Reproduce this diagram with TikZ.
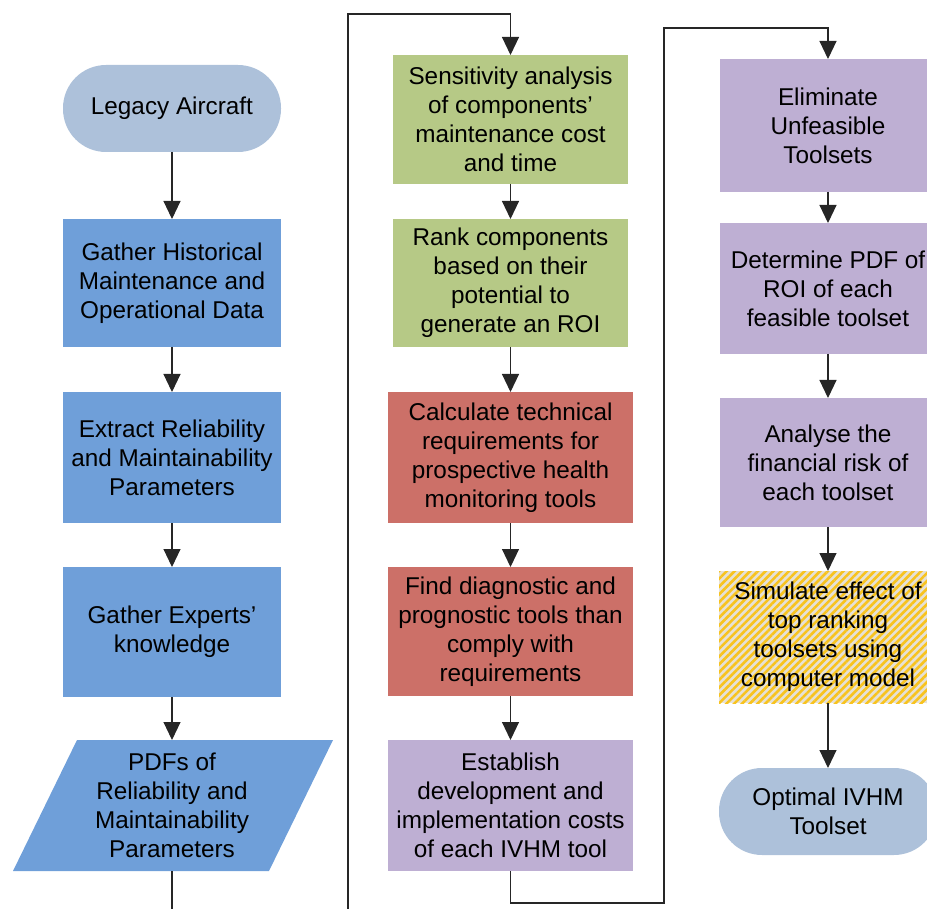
\documentclass[tikz,border=0pt]{standalone}
\usepackage{fontspec}
\setmainfont{Liberation Sans}
\usetikzlibrary{arrows.meta,patterns.meta}

\definecolor{termfill}{HTML}{ADC1DA}
\definecolor{bluefill}{HTML}{6F9FD9}
\definecolor{greenfill}{HTML}{B6C986}
\definecolor{redfill}{HTML}{CC7068}
\definecolor{purplefill}{HTML}{BEAFD3}
\definecolor{hatchbase}{HTML}{E6E1D6}
\definecolor{hatchline}{HTML}{F8C31E}
\definecolor{linecol}{HTML}{262626}

\tikzset{
  box/.style={rectangle, align=center, inner sep=0pt, outer sep=0pt,
    font=\fontsize{24.3}{29}\selectfont},
  terminal/.style={box, fill=termfill, rounded corners=43pt},
  bluebox/.style={box, fill=bluefill},
  greenbox/.style={box, fill=greenfill},
  redbox/.style={box, fill=redfill},
  purplebox/.style={box, fill=purplefill},
  hatchbox/.style={box, fill=hatchbase,
    postaction={pattern={Lines[angle=45,distance=5.5pt,line width=2.6pt]},
      pattern color=hatchline}},
  conn/.style={draw=linecol, line width=1.1pt},
  flow/.style={conn, -{Triangle[length=18pt,width=17pt]}},
}

\begin{document}
\begin{tikzpicture}[x=1pt,y=-1pt]
\useasboundingbox (0,0) rectangle (927,909);
\clip (0,0) rectangle (927,909);

% first column
\node[terminal, minimum width=218pt, minimum height=87pt] (legacy) at (172,108.5) {Legacy Aircraft};
\node[bluebox, minimum width=218pt, minimum height=128pt] (hist) at (172,283) {Gather Historical\\Maintenance and\\Operational Data};
\node[bluebox, minimum width=218pt, minimum height=131pt] (extract) at (172,457.5) {Extract Reliability\\and Maintainability\\Parameters};
\node[bluebox, minimum width=218pt, minimum height=130pt] (experts) at (172,632) {Gather Experts’\\knowledge};
% data parallelogram
\fill[bluefill] (77,740) -- (333,740) -- (269,871) -- (13,871) -- cycle;
\node[box, minimum width=192pt, minimum height=131pt] (pdfs) at (172,805.5) {PDFs of\\Reliability and\\Maintainability\\Parameters};

% second column
\node[greenbox, minimum width=235pt, minimum height=129pt] (sens) at (510.5,119.5) {Sensitivity analysis\\of components’\\maintenance cost\\and time};
\node[greenbox, minimum width=235pt, minimum height=128pt] (rank) at (510.5,283) {Rank components\\based on their\\potential to\\generate an ROI};
\node[redbox, minimum width=245pt, minimum height=131pt] (calc) at (510.5,457.5) {Calculate technical\\requirements for\\prospective health\\monitoring tools};
\node[redbox, minimum width=245pt, minimum height=129pt] (find) at (510.5,631.5) {Find diagnostic and\\prognostic tools than\\comply with\\requirements};
\node[purplebox, minimum width=245pt, minimum height=131pt] (estab) at (510.5,805.5) {Establish\\development and\\implementation costs\\of each IVHM tool};

% third column
\node[purplebox, minimum width=216pt, minimum height=133pt] (elim) at (828,125.5) {Eliminate\\Unfeasible\\Toolsets};
\node[purplebox, minimum width=216pt, minimum height=131pt] (det) at (828,288.5) {Determine PDF of\\ROI of each\\feasible toolset};
\node[purplebox, minimum width=216pt, minimum height=129pt] (risk) at (828,462.5) {Analyse the\\financial risk of\\each toolset};
\node[hatchbox, minimum width=218pt, minimum height=132pt] (sim) at (828,637) {Simulate effect of\\top ranking\\toolsets using\\computer model};
\node[terminal, minimum width=218pt, minimum height=87pt] (opt) at (828,811.5) {Optimal IVHM\\Toolset};

% connectors, first column
\draw[flow] (legacy) -- (hist);
\draw[flow] (hist) -- (extract);
\draw[flow] (extract) -- (experts);
\draw[flow] (experts) -- (pdfs);
\coordinate (outA) at (172,909);
\draw[conn] (pdfs.south) -- (outA);

% link into the second column
\coordinate (inA) at (348,909);
\coordinate (topA) at (348,14);
\draw[flow] (inA) -- (topA) -| (sens.north);
\draw[flow] (sens) -- (rank);
\draw[flow] (rank) -- (calc);
\draw[flow] (calc) -- (find);
\draw[flow] (find) -- (estab);

% link into the third column
\coordinate (botB) at (664,903);
\coordinate (topB) at (664,28);
\draw[flow] (estab.south) |- (botB) -- (topB) -| (elim.north);
\draw[flow] (elim) -- (det);
\draw[flow] (det) -- (risk);
\draw[flow] (risk) -- (sim);
\draw[flow] (sim) -- (opt);
\end{tikzpicture}
\end{document}
